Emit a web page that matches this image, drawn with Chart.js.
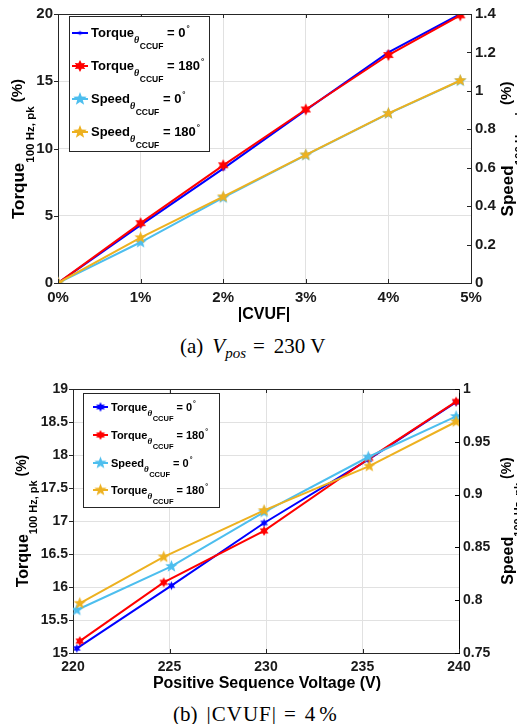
<!DOCTYPE html>
<html>
<head>
<meta charset="utf-8">
<script src="https://cdn.jsdelivr.net/npm/chart.js@4.4.1/dist/chart.umd.min.js"></script>
<style>
body { margin:0; background:#fff; width:517px; height:724px; position:relative; overflow:hidden; }
canvas { position:absolute; left:0; }
#chartA { top:0; }
#chartB { top:370px; }
.cap { position:absolute; white-space:nowrap; font-family:"Liberation Serif","DejaVu Serif",serif; font-size:21px; line-height:24px; color:#000; }
.cap sub { font-size:15px; vertical-align:-5px; line-height:0; font-style:italic; }
.cap .eq { margin:0 9px 0 7px; }
</style>
</head>
<body>
<canvas id="chartA" width="517" height="330"></canvas>
<div class="cap" style="top:334px; left:180px">(a)<span style="margin-left:9px"><i>V</i><sub>pos</sub></span><span class="eq">=</span>230<span style="margin-left:5px">V</span></div>
<canvas id="chartB" width="517" height="325"></canvas>
<div class="cap" style="top:702px; left:173px">(b)<span style="margin-left:9px; letter-spacing:1px">|CVUF|</span><span class="eq">=</span>4<span style="margin-left:4px">%</span></div>
<script>
// (a) values vs |CVUF| in %
const cvufA = [0, 1, 2, 3, 4, 4.87];
const torque0A = [0, 4.3, 8.5, 12.85, 17.15, 20.0];
const torque180A = [0, 4.45, 8.75, 12.9, 16.95, 19.9];
const speed0A = [0, 0.212, 0.444, 0.665, 0.882, 1.052];
const speed180A = [0, 0.236, 0.449, 0.667, 0.883, 1.054];

// (b) values vs positive sequence voltage
const volt0B = [220.2, 225.1, 229.9, 235.3, 239.85];
const volt180B = [220.35, 224.7, 229.9, 235.35, 239.85];
const torque0B = [15.07, 16.02, 16.97, 17.93, 18.8];
const torque180B = [15.18, 16.07, 16.85, 17.95, 18.81];
const speed0B = [0.7907, 0.832, 0.8835, 0.9356, 0.974];
const speed180B = [0.797, 0.841, 0.885, 0.927, 0.969];

// ticks
const xTicksA = [0, 1, 2, 3, 4, 5];
const yTicksA = [0, 5, 10, 15, 20];
const y1TicksA = [0, 0.2, 0.4, 0.6, 0.8, 1, 1.2, 1.4];
const xTicksB = [220, 225, 230, 235, 240];
const yTicksB = [15, 15.5, 16, 16.5, 17, 17.5, 18, 18.5, 19];
const y1TicksB = [0.75, 0.8, 0.85, 0.9, 0.95, 1];

// legend texts
const legendNamesA = ['Torque', 'Torque', 'Speed', 'Speed'];
const legendNamesB = ['Torque', 'Torque', 'Speed', 'Torque'];
const legendAngles = ['0', '180', '0', '180'];

const SANS = '"Liberation Sans", Arial, Helvetica, sans-serif';
const SERIF = '"Liberation Serif", "Times New Roman", serif';
const BLUE = '#0000ff', RED = '#ff0000', CYAN = '#4dbeee', ORANGE = '#edb120';

function starImg(n, r, ratio, color) {
    const c = document.createElement('canvas');
    const s = Math.ceil(r * 2 + 2);
    c.width = c.height = s;
    const g = c.getContext('2d');
    g.translate(s / 2, s / 2);
    g.beginPath();
    for (let i = 0; i < 2 * n; i++) {
        const rr = i % 2 ? r * ratio : r;
        const a = -Math.PI / 2 + i * Math.PI / n;
        g.lineTo(rr * Math.cos(a), rr * Math.sin(a));
    }
    g.closePath();
    g.fillStyle = color;
    g.fill();
    return c;
}

function xy(xs, ys) {
    return xs.map((x, i) => ({ x: x, y: ys[i] }));
}

function axis(pos, ticks, fmt, o) {
    return {
        type: 'linear', position: pos,
        min: ticks[0], max: ticks[ticks.length - 1],
        afterBuildTicks: s => { s.ticks = ticks.map(v => ({ value: v })); },
        ticks: {
            callback: fmt, autoSkip: false, maxRotation: 0, padding: o.pad,
            color: '#1a1a1a', font: { family: SANS, weight: 'bold', size: o.fs }
        },
        grid: { drawOnChartArea: o.grid, color: '#e1e1e1', drawTicks: false },
        border: { color: o.bc || '#262626', width: 1 },
        afterFit: s => { if (pos === 'bottom') s.height = o.size; else s.width = o.size; }
    };
}

function part(ctx, text, x, y, font) {
    ctx.font = font;
    ctx.fillText(text, x, y);
    return x + ctx.measureText(text).width;
}

function drawVTitle(ctx, cx, cy, parts) {
    ctx.save();
    ctx.translate(cx, cy);
    ctx.rotate(-Math.PI / 2);
    ctx.fillStyle = '#000';
    ctx.textBaseline = 'alphabetic';
    ctx.textAlign = 'left';
    let w = 0;
    parts.forEach(p => { ctx.font = p[1]; w += ctx.measureText(p[0]).width; });
    let x = -w / 2;
    parts.forEach(p => { x = part(ctx, p[0], x, p[2], p[1]); });
    ctx.restore();
}

function decor(cfg) {
    return {
        id: 'decor',
        afterDraw(chart) {
            const { ctx, chartArea: a, scales } = chart;
            ctx.save();
            // tick marks and top border
            ctx.strokeStyle = '#262626';
            ctx.lineWidth = 1;
            ctx.beginPath();
            scales.x.ticks.forEach(t => {
                const px = Math.round(scales.x.getPixelForValue(t.value)) + 0.5;
                ctx.moveTo(px, a.bottom); ctx.lineTo(px, a.bottom - 4);
                ctx.moveTo(px, a.top); ctx.lineTo(px, a.top + 4);
            });
            scales.y.ticks.forEach(t => {
                const py = Math.round(scales.y.getPixelForValue(t.value)) + 0.5;
                ctx.moveTo(a.left, py); ctx.lineTo(a.left - 4, py);
            });
            ctx.moveTo(a.left, a.top + 0.5); ctx.lineTo(a.right, a.top + 0.5);
            ctx.stroke();
            ctx.strokeStyle = cfg.rightColor;
            ctx.beginPath();
            scales.y1.ticks.forEach(t => {
                const py = Math.round(scales.y1.getPixelForValue(t.value)) + 0.5;
                ctx.moveTo(a.right, py); ctx.lineTo(a.right - 4, py);
            });
            ctx.stroke();

            // legend
            const L = cfg.legend;
            ctx.fillStyle = '#fff';
            ctx.fillRect(L.x, L.y, L.w, L.h);
            ctx.strokeStyle = '#262626';
            ctx.strokeRect(L.x + 0.5, L.y + 0.5, L.w, L.h);
            ctx.textBaseline = 'alphabetic';
            ctx.textAlign = 'left';
            chart.data.datasets.forEach((ds, i) => {
                const ly = L.rows[i];
                ctx.strokeStyle = ds.borderColor;
                ctx.lineWidth = 2;
                ctx.beginPath();
                ctx.moveTo(L.lx0, ly); ctx.lineTo(L.lx1, ly);
                ctx.stroke();
                const img = cfg.legendMarks[i];
                ctx.drawImage(img, (L.lx0 + L.lx1) / 2 - img.width / 2, ly - img.height / 2);
                ctx.fillStyle = '#000';
                const by = ly + L.base;
                let cx = part(ctx, cfg.names[i], L.tx, by, `bold ${L.fs}px ${SANS}`);
                cx = part(ctx, 'θ', cx, by + L.d1, `italic bold ${L.fs1}px ${SERIF}`);
                cx = part(ctx, 'CCUF', cx + 0.5, by + L.d2, `bold ${L.fs2}px ${SANS}`);
                cx = part(ctx, ' = ' + legendAngles[i], cx, by, `bold ${L.fs}px ${SANS}`);
                part(ctx, '°', cx + 1, by - L.d3, `bold ${L.fs3}px ${SANS}`);
            });

            // axis titles
            const T = cfg.titles;
            ctx.fillStyle = '#000';
            ctx.font = `bold ${T.xfs}px ${SANS}`;
            ctx.textAlign = 'center';
            ctx.textBaseline = 'middle';
            ctx.fillText(T.x, T.xx, T.xy);
            drawVTitle(ctx, T.lx, T.cy, [
                ['Torque', `bold ${T.fs}px ${SANS}`, 0],
                ['100 Hz, pk', `bold ${T.sfs}px ${SANS}`, T.sub],
                [' (%)', `bold ${T.pfs}px ${SANS}`, -2]
            ]);
            drawVTitle(ctx, T.rx, T.cy, [
                ['Speed', `bold ${T.fs}px ${SANS}`, 0],
                ['100 Hz, pk', `bold ${T.sfs}px ${SANS}`, T.sub],
                [' (%)', `bold ${T.pfs}px ${SANS}`, -2]
            ]);
            ctx.restore();
        }
    };
}

function lineSet(label, data, color, img, axisId, order) {
    return {
        label: label, data: data, yAxisID: axisId, order: order,
        borderColor: color, backgroundColor: color, borderWidth: 2,
        pointStyle: img, pointRadius: 5, pointHoverRadius: 5, tension: 0
    };
}

// ---- chart (a)
const marksA = [
    starImg(6, 3, 0.5, BLUE), starImg(6, 6, 0.55, RED),
    starImg(5, 6.5, 0.42, CYAN), starImg(5, 6.5, 0.42, ORANGE)
];
new Chart(document.getElementById('chartA'), {
    type: 'line',
    data: {
        datasets: [
            lineSet('Torque 0', xy(cvufA, torque0A), BLUE, marksA[0], 'y', 4),
            lineSet('Torque 180', xy(cvufA, torque180A), RED, marksA[1], 'y', 3),
            lineSet('Speed 0', xy(cvufA, speed0A), CYAN, marksA[2], 'y1', 2),
            lineSet('Speed 180', xy(cvufA, speed180A), ORANGE, marksA[3], 'y1', 1)
        ]
    },
    options: {
        responsive: false, animation: false,
        layout: { padding: { top: 12, left: 0, right: 0, bottom: 0 } },
        plugins: { legend: { display: false }, tooltip: { enabled: false } },
        scales: {
            x: axis('bottom', xTicksA, v => v + '%', { fs: 15, pad: 6, grid: true, size: 47 }),
            y: axis('left', yTicksA, v => String(v), { fs: 15, pad: 5, grid: true, size: 58 }),
            y1: axis('right', y1TicksA, v => String(+v.toFixed(2)), { fs: 15, pad: 4, grid: false, size: 46 })
        }
    },
    plugins: [decor({
        rightColor: '#262626',
        names: legendNamesA,
        legendMarks: [starImg(6, 2.5, 0.5, BLUE), starImg(6, 6, 0.55, RED), starImg(5, 7, 0.42, CYAN), starImg(5, 7, 0.42, ORANGE)],
        legend: { x: 69, y: 16, w: 140, h: 135, rows: [33, 66, 99, 132], lx0: 72, lx1: 88, tx: 91,
                  base: 4, fs: 13, fs1: 10, fs2: 8.5, fs3: 8, d1: 6, d2: 12, d3: 6 },
        titles: { x: '|CVUF|', xfs: 16, xx: 264, xy: 315, lx: 24, rx: 513, cy: 149,
                  fs: 17, sfs: 11.5, pfs: 15, sub: 10 }
    })]
});

// ---- chart (b)
const marksB = [
    starImg(6, 4.5, 0.5, BLUE), starImg(6, 5, 0.55, RED),
    starImg(5, 6.5, 0.42, CYAN), starImg(5, 6.5, 0.42, ORANGE)
];
new Chart(document.getElementById('chartB'), {
    type: 'line',
    data: {
        datasets: [
            lineSet('Torque 0', xy(volt0B, torque0B), BLUE, marksB[0], 'y', 4),
            lineSet('Torque 180', xy(volt180B, torque180B), RED, marksB[1], 'y', 3),
            lineSet('Speed 0', xy(volt0B, speed0B), CYAN, marksB[2], 'y1', 2),
            lineSet('Speed 180', xy(volt180B, speed180B), ORANGE, marksB[3], 'y1', 1)
        ]
    },
    options: {
        responsive: false, animation: false,
        layout: { padding: { top: 19, left: 0, right: 0, bottom: 0 } },
        plugins: { legend: { display: false }, tooltip: { enabled: false } },
        scales: {
            x: axis('bottom', xTicksB, v => String(v), { fs: 14, pad: 6, grid: true, size: 42 }),
            y: axis('left', yTicksB, v => String(v), { fs: 14, pad: 5, grid: true, size: 73 }),
            y1: axis('right', y1TicksB, v => String(+v.toFixed(2)), { fs: 14, pad: 4, grid: false, size: 58, bc: '#000' })
        }
    },
    plugins: [decor({
        rightColor: '#000',
        names: legendNamesB,
        legendMarks: [starImg(6, 5, 0.5, BLUE), starImg(6, 5, 0.55, RED), starImg(5, 6.5, 0.42, CYAN), starImg(5, 6.5, 0.42, ORANGE)],
        legend: { x: 83, y: 23, w: 136, h: 114, rows: [37, 65, 93, 120], lx0: 93, lx1: 108, tx: 111,
                  base: 4, fs: 11, fs1: 9, fs2: 7.5, fs3: 7, d1: 5, d2: 10, d3: 5 },
        titles: { x: 'Positive Sequence Voltage (V)', xfs: 16, xx: 267, xy: 314, lx: 28, rx: 513, cy: 151,
                  fs: 16, sfs: 11, pfs: 14, sub: 9 }
    })]
});
</script>
</body>
</html>
